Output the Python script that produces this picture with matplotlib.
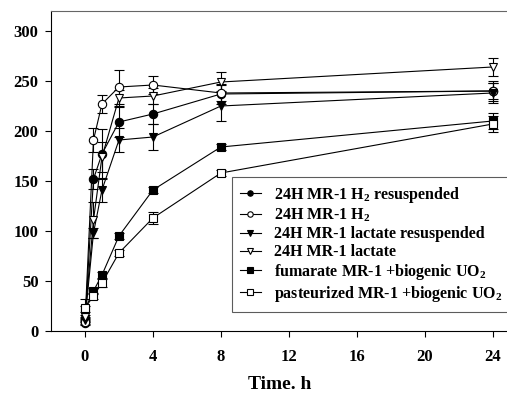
import numpy as np
import matplotlib
matplotlib.use("Agg")
import matplotlib.pyplot as plt

plt.rcParams['font.family'] = ['Liberation Serif', 'DejaVu Serif']
plt.rcParams['font.weight'] = 'bold'
plt.rcParams['mathtext.fontset'] = 'custom'
plt.rcParams['mathtext.rm'] = 'Liberation Serif:bold'
plt.rcParams['mathtext.it'] = 'Liberation Serif:bold'
plt.rcParams['mathtext.bf'] = 'Liberation Serif:bold'

# time points (h)
t = [0, 0.5, 1, 2, 4, 8, 24]

# series values
h2_resusp = [8, 152, 177, 209, 217, 237, 240]
h2_resusp_err = [2, 10, 25, 15, 10, 10, 10]
h2 = [9, 191, 227, 244, 246, 238, 240]
h2_err = [2, 12, 9, 17, 9, 8, 8]
lac_resusp = [11, 98, 141, 191, 194, 225, 238]
lac_resusp_err = [2, 5, 12, 12, 13, 15, 10]
lac = [14, 111, 174, 233, 235, 249, 264]
lac_err = [2, 18, 15, 8, 8, 10, 9]
fum_uo2 = [22, 40, 56, 95, 141, 184, 210]
fum_uo2_err = [3, 3, 3, 3, 3, 3, 8]
past_uo2 = [23, 35, 48, 78, 113, 158, 207]
past_uo2_err = [9, 3, 4, 3, 6, 3, 8]

labels = ["24H MR-1 H$_\\mathregular{2}$ resuspended",
          "24H MR-1 H$_\\mathregular{2}$",
          "24H MR-1 lactate resuspended",
          "24H MR-1 lactate",
          "fumarate MR-1 +biogenic UO$_\\mathregular{2}$",
          "pasteurized MR-1 +biogenic UO$_\\mathregular{2}$"]

series = [(h2_resusp, h2_resusp_err, 'o', 'black'),
          (h2, h2_err, 'o', 'white'),
          (lac_resusp, lac_resusp_err, 'v', 'black'),
          (lac, lac_err, 'v', 'white'),
          (fum_uo2, fum_uo2_err, 's', 'black'),
          (past_uo2, past_uo2_err, 's', 'white')]

fig = plt.figure(figsize=(5.07, 3.96), dpi=100)
ax = fig.add_axes([51/507, 1 - 331/396, (508 - 51)/507, (331 - 11)/396])

# do plot
handles = []
for (vals, err, mk, fc), lab in zip(series, labels):
    h = ax.errorbar(t, vals, yerr=err, marker=mk, markersize=6, mfc=fc,
                    mec='black', mew=0.8, color='black', lw=0.8,
                    ecolor='black', elinewidth=0.8, capsize=3.5, capthick=0.8,
                    label=lab)
    handles.append(h[0])

ax.set_xlim(-2, 24.9)
ax.set_ylim(0, 320)
ax.set_xticks([0, 4, 8, 12, 16, 20, 24])
ax.set_yticks([0, 50, 100, 150, 200, 250, 300])
ax.tick_params(direction='out', length=4, width=0.8, labelsize=12)
ax.tick_params(axis='x', pad=9)
ax.tick_params(axis='y', pad=5)
ax.spines['right'].set_visible(False)
ax.spines['top'].set_color('#666666')
ax.set_xlabel("Time. h", fontsize=14, fontweight='bold', labelpad=8)

# add legend
leg = ax.legend(handles=handles, labels=labels,
                loc='upper left', bbox_to_anchor=(232/507, 1 - 177/396),
                bbox_transform=fig.transFigure, borderaxespad=0,
                fancybox=False, edgecolor='#333333', fontsize=11.5,
                markerscale=0.65, handlelength=1.3, labelspacing=0.12,
                handletextpad=0.8, borderpad=0.5)
leg.get_frame().set_linewidth(0.8)

plt.savefig("out.png", dpi=100)
